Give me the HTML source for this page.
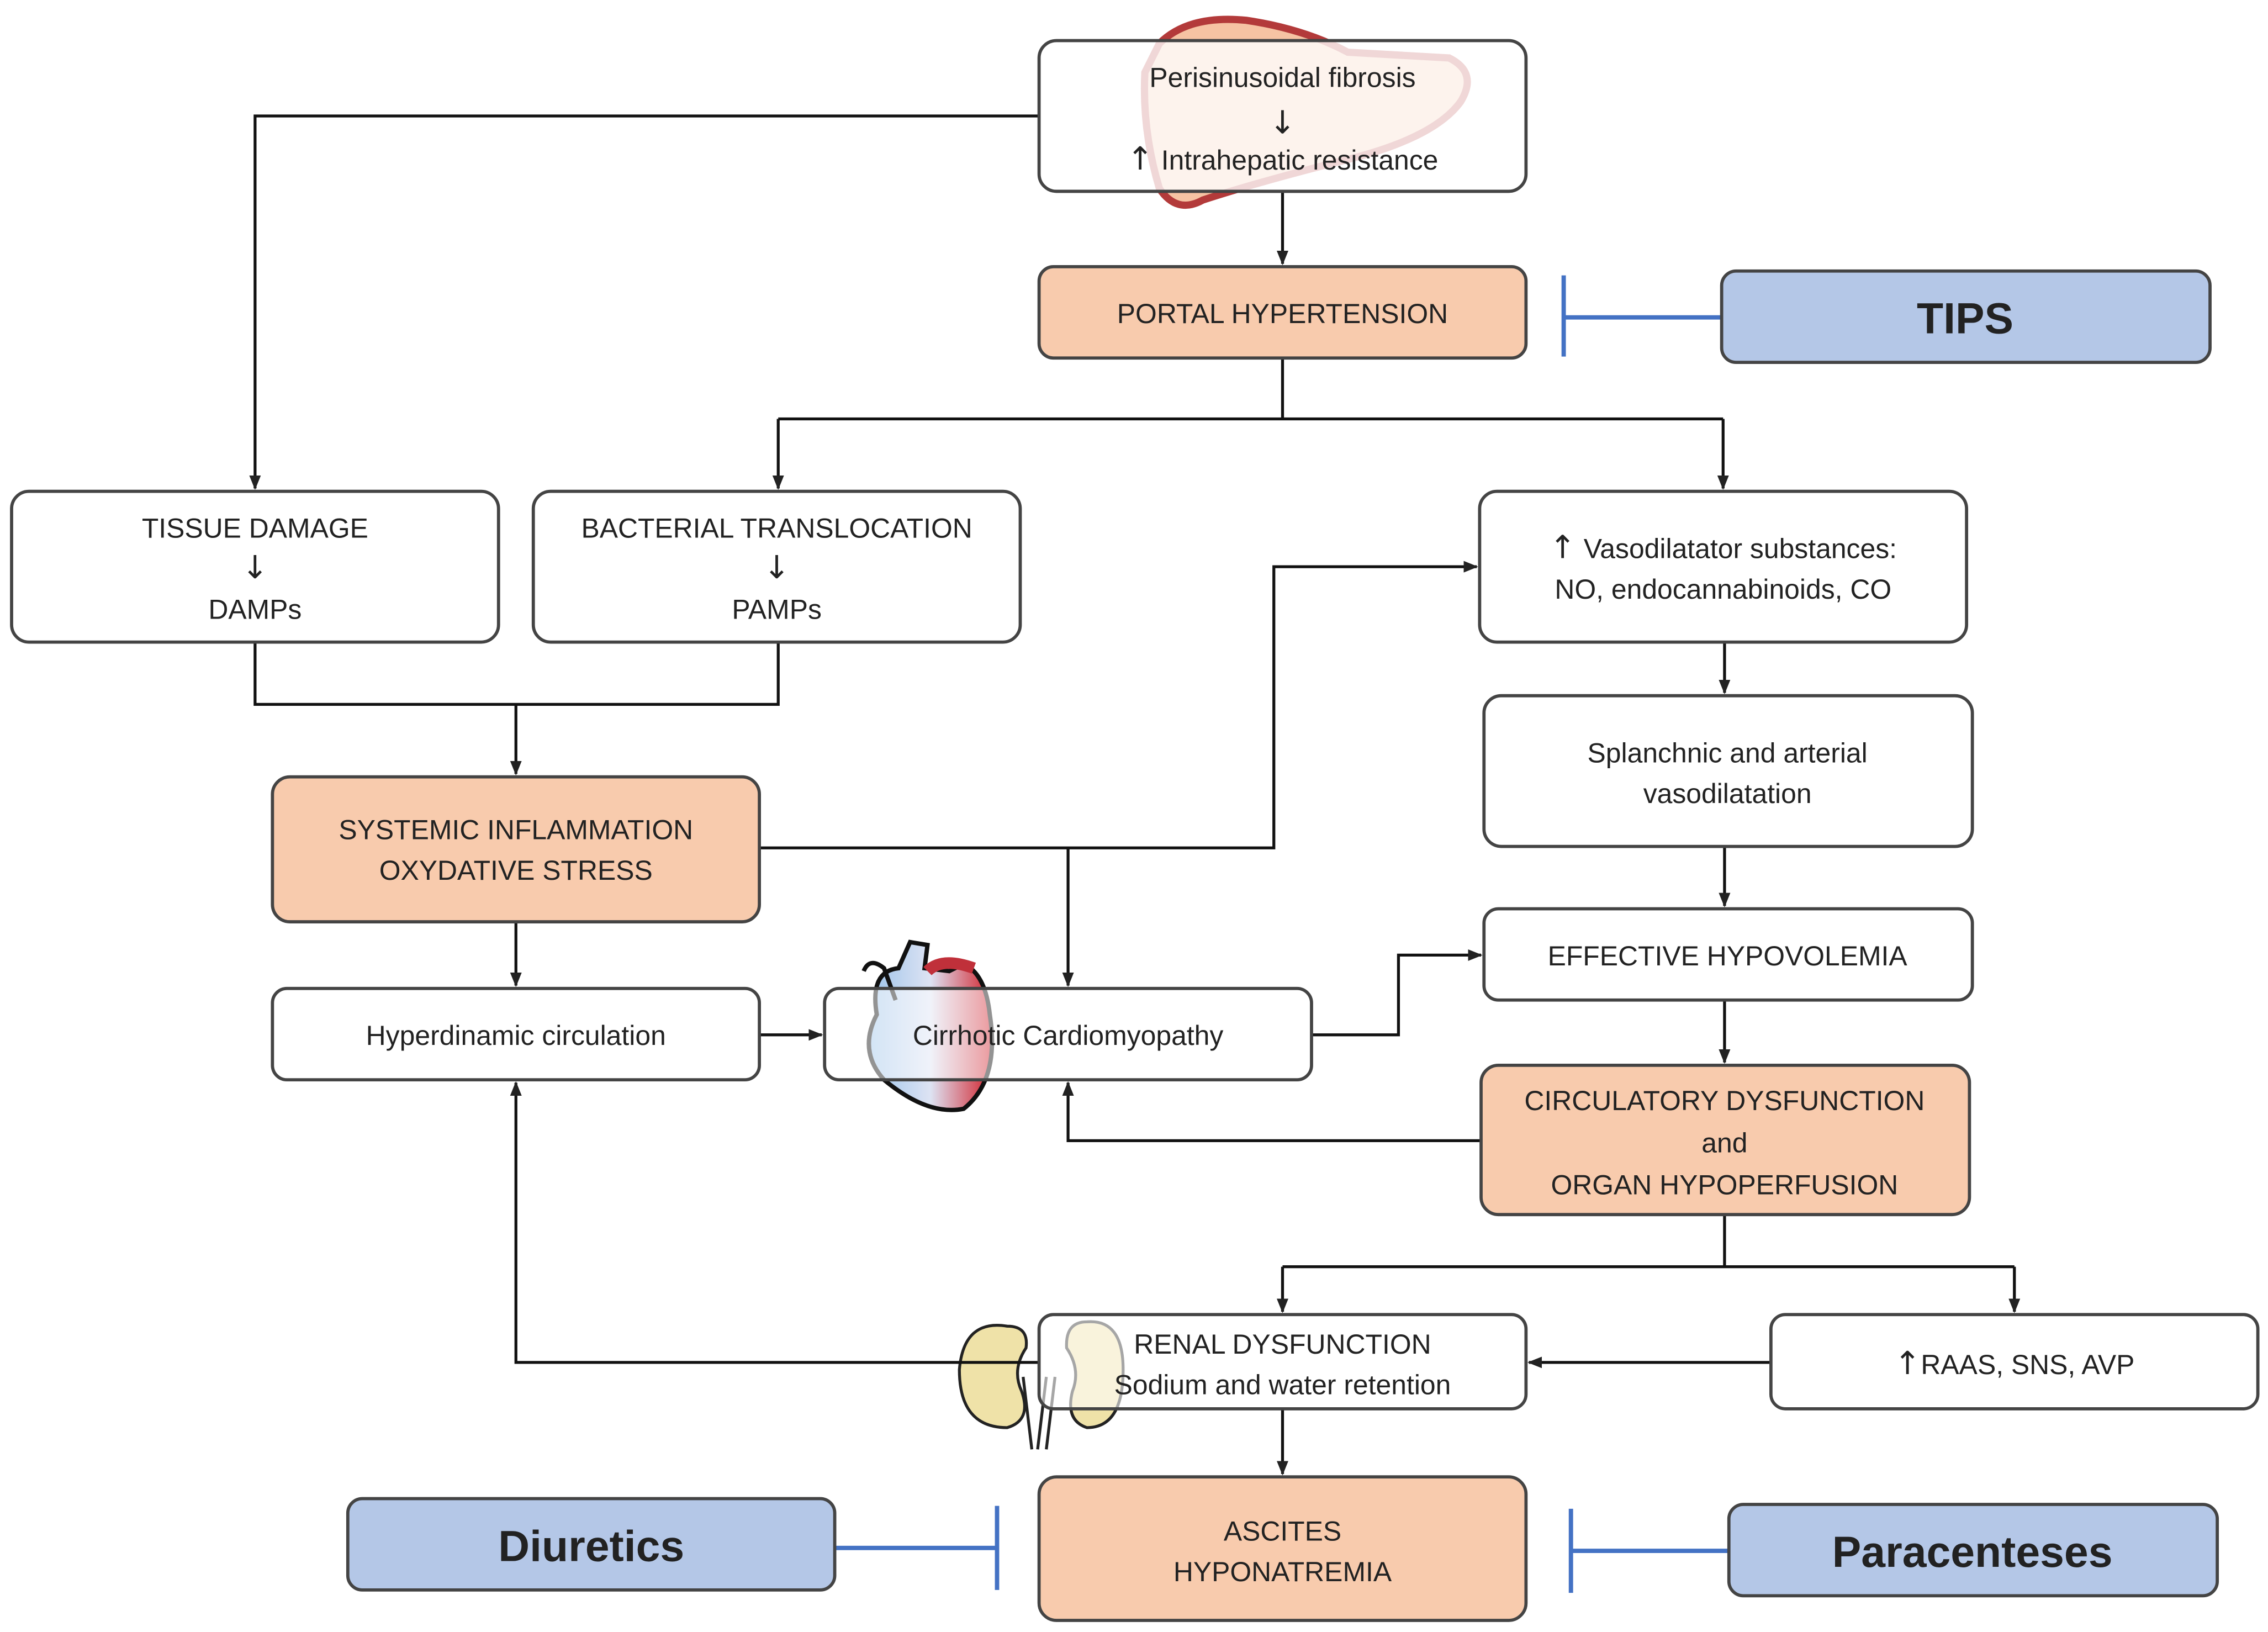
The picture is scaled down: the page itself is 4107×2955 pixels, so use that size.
<!DOCTYPE html>
<html><head><meta charset="utf-8"><style>
html,body{margin:0;padding:0;background:#fff}
svg{display:block}
text{font-family:"Liberation Sans",sans-serif;fill:#222;font-size:19px;text-anchor:middle}
.ar{font-family:"DejaVu Sans",sans-serif;font-size:22px}
.b{fill:rgba(255,255,255,0.8);stroke:#444;stroke-width:2.2}
.o{fill:#f8cbad;stroke:#444;stroke-width:2.2}
.u{fill:#b4c7e7;stroke:#444;stroke-width:2.2}
.c{fill:none;stroke:#111;stroke-width:2}
.i{fill:none;stroke:#4472c4;stroke-width:3}
.big{font-size:30px;font-weight:bold;fill:#222}
</style></head><body>
<svg width="4107" height="2955" viewBox="0 0 1565 1126" xmlns="http://www.w3.org/2000/svg">
<defs>
<marker id="a" markerWidth="10" markerHeight="10" refX="9" refY="5" orient="auto" markerUnits="userSpaceOnUse">
<path d="M0,1 L10,5 L0,9 z" fill="#222"/></marker>
<linearGradient id="hg" x1="0" x2="1" y1="0" y2="0">
<stop offset="0" stop-color="#9cc3ea"/><stop offset="0.5" stop-color="#dde3f3"/><stop offset="1" stop-color="#d2202a"/></linearGradient>
</defs>

<path d="M800,30 Q820,10 860,14 Q900,20 930,36 L1000,40 Q1020,50 1008,70 Q990,95 930,110 Q870,125 830,138 Q812,148 800,130 Q788,90 790,50 Z" fill="#f6c3a3" stroke="#b33a3a" stroke-width="5"/>
<path d="M605,700 Q600,670 620,668 L628,650 L640,652 L638,668 L655,670 L665,665 Q680,672 683,700 Q690,745 665,765 Q640,770 610,745 Q592,725 605,700 Z" fill="url(#hg)" stroke="#111" stroke-width="3"/>
<path d="M596,670 Q600,660 610,668 L618,690" fill="none" stroke="#111" stroke-width="3"/>
<path d="M640,670 Q650,660 672,668" fill="none" stroke="#c0303a" stroke-width="8"/>
<path d="M695,915 Q665,910 662,945 Q662,985 695,985 Q712,980 705,960 Q698,945 708,930 Q710,915 695,915 Z" fill="#efe2a8" stroke="#222" stroke-width="2"/>
<path d="M750,912 Q775,910 775,945 Q775,985 750,985 Q735,980 740,960 Q746,945 736,930 Q735,912 750,912 Z" fill="#efe2a8" stroke="#222" stroke-width="2"/>
<path d="M706,950 L712,1000 M722,950 L716,1000 M728,950 L722,1000" fill="none" stroke="#222" stroke-width="2"/>

<polyline class="c" points="717,80 176,80 176,337" marker-end="url(#a)"/>
<polyline class="c" points="885,132 885,182" marker-end="url(#a)"/>
<polyline class="c" points="885,247 885,289"/>
<polyline class="c" points="537,289 1189,289"/>
<polyline class="c" points="537,289 537,337" marker-end="url(#a)"/>
<polyline class="c" points="1189,289 1189,337" marker-end="url(#a)"/>
<polyline class="c" points="176,443 176,486 537,486 537,443"/>
<polyline class="c" points="356,486 356,534" marker-end="url(#a)"/>
<polyline class="c" points="524,585 879,585 879,391 1019,391" marker-end="url(#a)"/>
<polyline class="c" points="737,585 737,680" marker-end="url(#a)"/>
<polyline class="c" points="356,636 356,680" marker-end="url(#a)"/>
<polyline class="c" points="524,714 567,714" marker-end="url(#a)"/>
<polyline class="c" points="1190,443 1190,478" marker-end="url(#a)"/>
<polyline class="c" points="1190,584 1190,625" marker-end="url(#a)"/>
<polyline class="c" points="1190,690 1190,733" marker-end="url(#a)"/>
<polyline class="c" points="905,714 965,714 965,659 1022,659" marker-end="url(#a)"/>
<polyline class="c" points="1022,787 737,787 737,747" marker-end="url(#a)"/>
<polyline class="c" points="1190,838 1190,874"/>
<polyline class="c" points="885,874 1390,874"/>
<polyline class="c" points="885,874 885,905" marker-end="url(#a)"/>
<polyline class="c" points="1390,874 1390,905" marker-end="url(#a)"/>
<polyline class="c" points="1222,940 1055,940" marker-end="url(#a)"/>
<polyline class="c" points="717,940 356,940 356,747" marker-end="url(#a)"/>
<polyline class="c" points="885,972 885,1017" marker-end="url(#a)"/>

<path class="i" d="M1188,219 L1079,219 M1079,190 L1079,246"/>
<path class="i" d="M577,1068 L688,1068 M688,1039 L688,1097"/>
<path class="i" d="M1193,1070 L1084,1070 M1084,1041 L1084,1099"/>

<rect class="b" x="717" y="28" width="336" height="104" rx="12"/>
<text x="885" y="60">Perisinusoidal fibrosis</text>
<text class="ar" x="885" y="92">↓</text>
<text x="885" y="117"><tspan class="ar">↑</tspan> Intrahepatic resistance</text>

<rect class="o" x="717" y="184" width="336" height="63" rx="10"/>
<text x="885" y="223">PORTAL HYPERTENSION</text>

<rect class="u" x="1188" y="187" width="337" height="63" rx="10"/>
<text class="big" x="1356" y="230">TIPS</text>

<rect class="b" x="8" y="339" width="336" height="104" rx="12"/>
<text x="176" y="371">TISSUE DAMAGE</text>
<text class="ar" x="176" y="399">↓</text>
<text x="176" y="427">DAMPs</text>

<rect class="b" x="368" y="339" width="336" height="104" rx="12"/>
<text x="536" y="371">BACTERIAL TRANSLOCATION</text>
<text class="ar" x="536" y="399">↓</text>
<text x="536" y="427">PAMPs</text>

<rect class="b" x="1021" y="339" width="336" height="104" rx="12"/>
<text x="1189" y="385"><tspan class="ar">↑</tspan> Vasodilatator substances:</text>
<text x="1189" y="413">NO, endocannabinoids, CO</text>

<rect class="b" x="1024" y="480" width="337" height="104" rx="12"/>
<text x="1192" y="526">Splanchnic and arterial</text>
<text x="1192" y="554">vasodilatation</text>

<rect class="o" x="188" y="536" width="336" height="100" rx="12"/>
<text x="356" y="579">SYSTEMIC INFLAMMATION</text>
<text x="356" y="607">OXYDATIVE STRESS</text>

<rect class="b" x="1024" y="627" width="337" height="63" rx="10"/>
<text x="1192" y="666">EFFECTIVE HYPOVOLEMIA</text>

<rect class="b" x="188" y="682" width="336" height="63" rx="10"/>
<text x="356" y="721">Hyperdinamic circulation</text>

<rect class="b" x="569" y="682" width="336" height="63" rx="10" style="fill:rgba(255,255,255,0.55)"/>
<text x="737" y="721">Cirrhotic Cardiomyopathy</text>

<rect class="o" x="1022" y="735" width="337" height="103" rx="12"/>
<text x="1190" y="766">CIRCULATORY DYSFUNCTION</text>
<text x="1190" y="795">and</text>
<text x="1190" y="824">ORGAN HYPOPERFUSION</text>

<rect class="b" x="717" y="907" width="336" height="65" rx="10" style="fill:rgba(255,255,255,0.6)"/>
<text x="885" y="934">RENAL DYSFUNCTION</text>
<text x="885" y="962">Sodium and water retention</text>

<rect class="b" x="1222" y="907" width="336" height="65" rx="10"/>
<text x="1390" y="948"><tspan class="ar">↑</tspan>RAAS, SNS, AVP</text>

<rect class="o" x="717" y="1019" width="336" height="99" rx="12"/>
<text x="885" y="1063">ASCITES</text>
<text x="885" y="1091">HYPONATREMIA</text>

<rect class="u" x="240" y="1034" width="336" height="63" rx="10"/>
<text class="big" x="408" y="1077">Diuretics</text>

<rect class="u" x="1193" y="1038" width="337" height="63" rx="10"/>
<text class="big" x="1361" y="1081">Paracenteses</text>
</svg>
</body></html>
